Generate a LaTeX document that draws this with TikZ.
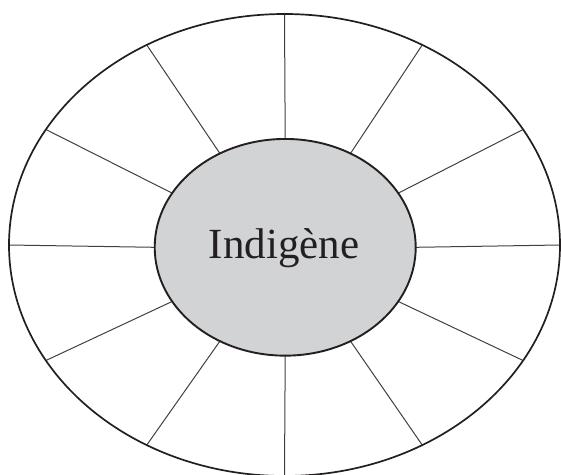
\documentclass[tikz,border=0pt]{standalone}
\usepackage{fontspec}
\setmainfont{Liberation Serif}
\usetikzlibrary{shapes.geometric,calc}
\definecolor{inkline}{HTML}{231F20}
\definecolor{spokegray}{HTML}{404041}
\definecolor{corefill}{HTML}{D1D3D4}
\begin{document}
\begin{tikzpicture}[x=1pt,y=-1pt,
  rim/.style={draw=inkline,line width=1.7pt},
  spoke/.style={draw=spokegray,line width=1pt},
  core/.style={ellipse,draw=inkline,line width=1.9pt,fill=corefill,inner sep=0pt,
    minimum width=261pt,minimum height=216.7pt},
  lbl/.style={font=\fontsize{43}{48}\selectfont,text=inkline,inner sep=0pt,anchor=base}]
\useasboundingbox (0,0) rectangle (561,474);
\clip (0,0) rectangle (561,474);
\coordinate (oc) at (284.5,245);
\coordinate (ic) at (285.2,247.3);
\foreach \a in {0,30,...,330}{
  \coordinate (in\a) at ($(ic)+({130.5*cos(\a)},{-108.3*sin(\a)})$);
  \coordinate (out\a) at ($(oc)+({275.5*cos(\a)},{-231*sin(\a)})$);
  \draw[spoke] (in\a) -- (out\a);
}
\draw[rim] (oc) ellipse [x radius=275.5, y radius=231];
\node[core] (centre) at (ic) {};
\node[lbl] (word) at (284.2,258.3) {Indigène};
\end{tikzpicture}
\end{document}
